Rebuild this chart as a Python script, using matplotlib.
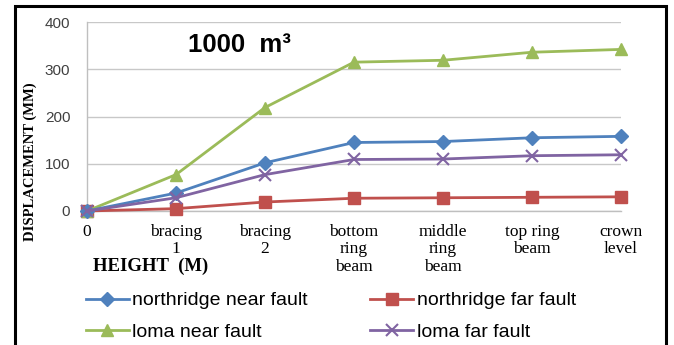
import numpy as np
import matplotlib
matplotlib.use("Agg")
import matplotlib.pyplot as plt
from matplotlib.patches import Rectangle

# ===== Data =====
heights = ["0", "bracing\n1", "bracing\n2", "bottom\nring\nbeam",
           "middle\nring\nbeam", "top ring\nbeam", "crown\nlevel"]
northridge_near = [0, 38, 102, 145, 147, 155, 158]
northridge_far = [0, 5, 19, 27, 28, 29, 30]
loma_near = [0, 77, 219, 315, 319, 336, 342]
loma_far = [0, 28, 77, 109, 110, 117, 119]
yticks = [0, 100, 200, 300, 400]

W, H = 674, 345
fig = plt.figure(figsize=(W / 100, H / 100), dpi=100)
ax = fig.add_axes([87 / W, (H - 211) / H, (621 - 87) / W, 189 / H])

x = np.arange(len(heights))
lw = 2.0
l1, = ax.plot(x, northridge_near, color="#4F81BD", lw=lw, marker="D", ms=7,
              label="northridge near fault", clip_on=False, zorder=4)
l2, = ax.plot(x, northridge_far, color="#C0504D", lw=lw, marker="s", ms=8,
              label="northridge far fault", clip_on=False, zorder=3)
l3, = ax.plot(x, loma_near, color="#9BBB59", lw=lw, marker="^", ms=9,
              label="loma near fault", clip_on=False, zorder=3)
l4, = ax.plot(x, loma_far, color="#8064A2", lw=lw, marker="x", ms=8, mew=1.5,
              label="loma far fault", clip_on=False, zorder=5)

ax.set_xlim(0, 6)
ax.set_ylim(0, 400)
ax.set_yticks(yticks)
ax.set_yticklabels([str(v) for v in yticks], fontsize=11,
                   family="Liberation Sans", color="#404040")
ax.set_xticks(x)
ax.set_xticklabels(heights, fontsize=12.5, family="Liberation Serif",
                   linespacing=1.15)
ax.tick_params(length=0, pad=9)
ax.tick_params(axis="y", pad=12)
ax.yaxis.grid(True, color="#C8C8C8", lw=1)
ax.set_axisbelow(True)
for s in ("top", "right"):
    ax.spines[s].set_visible(False)
for s in ("left", "bottom"):
    ax.spines[s].set_color("#BFBFBF")
    ax.spines[s].set_linewidth(1)

fig.text(30 / W, 1 - 162 / H, "DISPLACEMENT (MM)", rotation=90,
         ha="center", va="center", fontsize=10.5, fontweight="bold",
         family="Liberation Serif")
fig.text(93 / W, 1 - 266 / H, "HEIGHT  (M)", ha="left", va="center",
         fontsize=13.5, fontweight="bold", family="Liberation Serif")
fig.text(188 / W, 1 - 45 / H, "1000  m³", ha="left", va="center",
         fontsize=18.5, fontweight="bold", family="Liberation Sans")

handles = [l1, l3, l2, l4]
leg = fig.legend(handles=handles, labels=[h.get_label() for h in handles],
                 loc="upper left", bbox_to_anchor=(78 / W, 1 - 284 / H),
                 ncol=2, frameon=False, prop={"family": "Liberation Sans", "size": 14},
                 handlelength=2.2, handletextpad=0.2, columnspacing=3.2,
                 labelspacing=0.7, borderaxespad=0)

fig.patches.append(Rectangle((15 / W, -0.1), (666 - 15) / W, 1.1 - 6 / H,
                             transform=fig.transFigure, fill=False,
                             edgecolor="black", lw=2.2, clip_on=False))

fig.savefig("out.png", dpi=100)
